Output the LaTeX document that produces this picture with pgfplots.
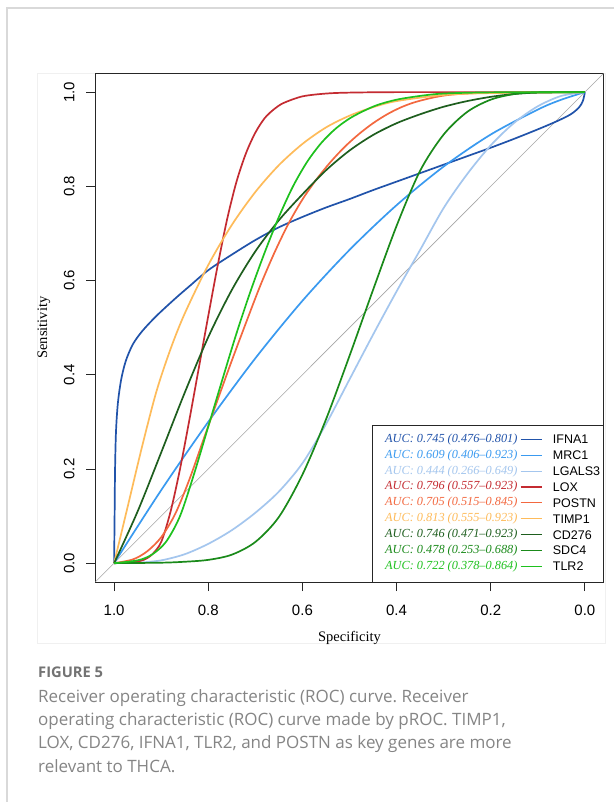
\documentclass[border=0pt]{standalone}
\usepackage{fontspec}
\setmainfont{Liberation Sans}
\newfontfamily\seriffont{Liberation Serif}
\newfontfamily\capfont{Open Sans}
\usepackage{pgfplots}
\pgfplotsset{compat=1.18}
\frenchspacing

\definecolor{cIFNA}{HTML}{2153AA}
\definecolor{cMRC}{HTML}{3A9AF0}
\definecolor{cLGALS}{HTML}{A4C6EE}
\definecolor{cLOX}{HTML}{C42B31}
\definecolor{cPOSTN}{HTML}{F3683F}
\definecolor{cTIMP}{HTML}{FEBB5A}
\definecolor{cCD}{HTML}{1E5E1E}
\definecolor{cSDC}{HTML}{1A8A1A}
\definecolor{cTLR}{HTML}{1EC11E}

\begin{document}
\begin{tikzpicture}
\path[use as bounding box] (0,0) rectangle (614pt,-802pt);
\fill[white] (0,0) rectangle (614pt,-802pt);
\draw[black!15, line width=1.6pt] (614pt,-8pt) -- (7pt,-8pt) -- (7pt,-802pt);
\draw[black!6, line width=0.8pt] (37.3pt,-73.3pt) rectangle (605pt,-643.3pt);

\begin{axis}[
  at={(95.3pt,-582pt)}, anchor=south west,
  width=508.4pt, height=508.7pt, scale only axis,
  xmin=-0.04, xmax=1.04, ymin=-0.04, ymax=1.04,
  x dir=reverse,
  xtick={0,0.2,0.4,0.6,0.8,1}, ytick={0,0.2,0.4,0.6,0.8,1},
  xticklabels={0.0,0.2,0.4,0.6,0.8,1.0},
  yticklabels={0.0,0.2,0.4,0.6,0.8,1.0},
  xtick pos=left, ytick pos=left,
  tick align=outside, major tick length=9pt,
  tick style={black!85, line width=0.8pt},
  axis line style={black!85, line width=0.9pt},
  ticklabel style={font=\fontsize{15}{18}\selectfont},
  xticklabel style={anchor=center, yshift=-19.3pt},
  yticklabel style={anchor=center, xshift=-17pt, rotate=90},
  xlabel={Specificity}, ylabel={Sensitivity},
  every axis x label/.style={at={(axis description cs:0.5,0)}, anchor=center, yshift=-56pt,
    font=\seriffont\fontsize{14.5}{17}\selectfont},
  every axis y label/.style={at={(axis description cs:-0.1009,0.5)}, anchor=center, rotate=90,
    font=\seriffont\fontsize{14.5}{17}\selectfont},
  every axis plot/.append style={line width=1.7pt, forget plot, smooth},
]
\addplot[black!35, line width=0.6pt, sharp plot] coordinates {(-0.04,1.04) (1.04,-0.04)};

% IFNA1
\addplot[cIFNA] coordinates {
 (1,0) (0.999,0.1) (0.998,0.2) (0.996,0.28) (0.992,0.34) (0.985,0.39) (0.975,0.43)
 (0.96,0.465) (0.94,0.493) (0.91,0.525) (0.87,0.562) (0.84,0.588) (0.8,0.622)
 (0.75,0.655) (0.7,0.686) (0.65,0.713) (0.6,0.735) (0.55,0.755) (0.5,0.773)
 (0.45,0.792) (0.4,0.810) (0.35,0.828) (0.3,0.846) (0.25,0.864) (0.2,0.882)
 (0.15,0.901) (0.1,0.921) (0.06,0.938) (0.03,0.953) (0.012,0.968) (0.004,0.982) (0,1)};
% MRC1
\addplot[cMRC] coordinates {
 (1,0) (0.9,0.155) (0.8,0.300) (0.7,0.435) (0.6,0.557) (0.5,0.665) (0.4,0.760)
 (0.3,0.842) (0.2,0.910) (0.1,0.963) (0.05,0.984) (0,1)};
% LGALS3
\addplot[cLGALS] coordinates {
 (1,0) (0.95,0.001) (0.9,0.006) (0.85,0.019) (0.8,0.041) (0.75,0.07) (0.7,0.107)
 (0.65,0.152) (0.6,0.212) (0.55,0.295) (0.5,0.39) (0.45,0.485) (0.4,0.577)
 (0.35,0.665) (0.3,0.754) (0.25,0.826) (0.2,0.887) (0.15,0.935) (0.1,0.97)
 (0.05,0.992) (0,1)};
% LOX
\addplot[cLOX] coordinates {
 (1,0) (0.97,0.001) (0.94,0.006) (0.92,0.018) (0.9,0.045) (0.88,0.11) (0.86,0.2)
 (0.84,0.305) (0.82,0.415) (0.80,0.525) (0.78,0.632) (0.76,0.73) (0.74,0.81)
 (0.72,0.87) (0.70,0.914) (0.68,0.945) (0.66,0.964) (0.64,0.977) (0.6,0.991)
 (0.55,0.997) (0.5,0.999) (0.4,1) (0.2,1) (0,1)};
% POSTN
\addplot[cPOSTN] coordinates {
 (1,0) (0.96,0.008) (0.93,0.025) (0.9,0.055) (0.87,0.105) (0.84,0.178) (0.81,0.263)
 (0.78,0.347) (0.75,0.43) (0.72,0.51) (0.69,0.588) (0.66,0.658) (0.63,0.72)
 (0.60,0.772) (0.57,0.815) (0.54,0.852) (0.51,0.884) (0.48,0.911) (0.45,0.934)
 (0.42,0.953) (0.39,0.968) (0.36,0.979) (0.32,0.989) (0.28,0.995) (0.2,0.999) (0,1)};
% TIMP1
\addplot[cTIMP] coordinates {
 (1,0) (0.97,0.125) (0.94,0.25) (0.91,0.365) (0.88,0.455) (0.85,0.530) (0.8,0.633)
 (0.75,0.718) (0.7,0.788) (0.65,0.845) (0.6,0.890) (0.55,0.925) (0.5,0.950)
 (0.45,0.968) (0.4,0.981) (0.3,0.994) (0.2,0.998) (0,1)};
% CD276
\addplot[cCD] coordinates {
 (1,0) (0.95,0.11) (0.9,0.235) (0.85,0.362) (0.8,0.48) (0.75,0.58) (0.7,0.662)
 (0.65,0.728) (0.6,0.783) (0.55,0.834) (0.5,0.876) (0.45,0.909) (0.4,0.934)
 (0.35,0.953) (0.3,0.969) (0.25,0.981) (0.2,0.99) (0.15,0.996) (0.1,0.999) (0,1)};
% SDC4
\addplot[cSDC] coordinates {
 (1,0) (0.9,0.001) (0.85,0.003) (0.8,0.007) (0.75,0.018) (0.7,0.045) (0.65,0.098)
 (0.6,0.188) (0.55,0.305) (0.5,0.44) (0.45,0.58) (0.4,0.716) (0.35,0.833)
 (0.3,0.91) (0.25,0.958) (0.2,0.984) (0.15,0.996) (0.1,0.9995) (0,1)};
% TLR2
\addplot[cTLR] coordinates {
 (1,0) (0.95,0.006) (0.92,0.018) (0.89,0.045) (0.86,0.1) (0.83,0.19) (0.80,0.29)
 (0.77,0.39) (0.74,0.488) (0.71,0.578) (0.68,0.66) (0.65,0.735) (0.62,0.80)
 (0.59,0.852) (0.56,0.892) (0.53,0.922) (0.50,0.944) (0.47,0.960) (0.44,0.973)
 (0.4,0.984) (0.35,0.992) (0.3,0.997) (0.2,0.9995) (0,1)};
\end{axis}

% legend
\draw[black!85, fill=white, line width=0.9pt] (372.7pt,-425pt) rectangle (603.7pt,-582pt);
\foreach \c/\auc/\g [count=\i from 0] in {
  cIFNA/{0.745 (0.476–0.801)}/IFNA1,
  cMRC/{0.609 (0.406–0.923)}/MRC1,
  cLGALS/{0.444 (0.266–0.649)}/LGALS3,
  cLOX/{0.796 (0.557–0.923)}/LOX,
  cPOSTN/{0.705 (0.515–0.845)}/POSTN,
  cTIMP/{0.813 (0.555–0.923)}/TIMP1,
  cCD/{0.746 (0.471–0.923)}/CD276,
  cSDC/{0.478 (0.253–0.688)}/SDC4,
  cTLR/{0.722 (0.378–0.864)}/TLR2} {
  \pgfmathsetmacro\yy{-(439.3+15.9*\i)}
  \node[anchor=west, inner sep=0pt, text=\c, font=\seriffont\itshape\fontsize{12.3}{14}\selectfont]
    at (385pt,\yy pt) {AUC: \auc};
  \draw[\c, line width=1.1pt] (520.7pt,\yy pt) -- (542.3pt,\yy pt);
  \node[anchor=west, inner sep=0pt, font=\fontsize{12.5}{14}\selectfont]
    at (552.7pt,\yy pt) {\g};
}

% caption
\node[anchor=base west, inner sep=0pt, text=black!55, font=\capfont\bfseries\fontsize{14.7}{17}\selectfont]
  at (38pt,-677.3pt) {FIGURE 5};
\foreach \t [count=\i from 0] in {
  {Receiver operating characteristic (ROC) curve. Receiver},
  {operating characteristic (ROC) curve made by pROC. TIMP1,},
  {LOX, CD276, IFNA1, TLR2, and POSTN as key genes are more},
  {relevant to THCA.}} {
  \pgfmathsetmacro\yy{-(702.3+23.3*\i)}
  \node[anchor=base west, inner sep=0pt, text=black!48, font=\capfont\fontsize{17}{20}\selectfont]
    at (38pt,\yy pt) {\t};
}
\end{tikzpicture}
\end{document}
